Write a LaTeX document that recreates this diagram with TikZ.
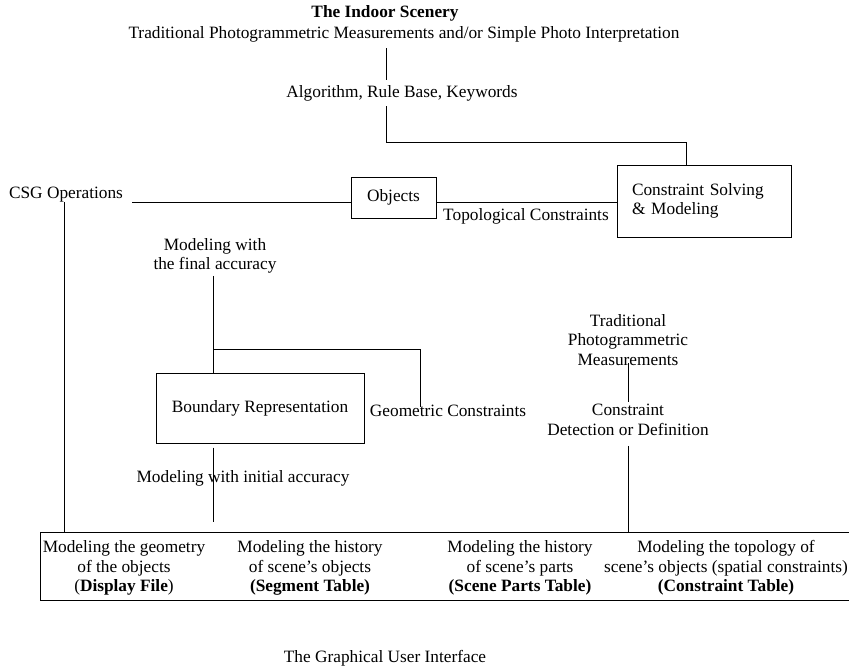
\documentclass[tikz,border=0pt]{standalone}
\usepackage{fontspec}
\setmainfont{Liberation Serif}
\begin{document}
\begin{tikzpicture}[x=1pt,y=-1pt,
  every node/.style={font=\fontsize{17.3}{19.5}\selectfont, inner sep=2pt, align=center},
  boldtxt/.style={font=\fontsize{17.3}{19.5}\selectfont\bfseries},
  box/.style={draw, line width=1pt},
  conn/.style={line width=1pt}]
\useasboundingbox (0,0) rectangle (849,672);

% text and box nodes
\node[boldtxt] (title) at (385,13) {The Indoor Scenery};
\node (trad) at (404,34) {Traditional Photogrammetric Measurements and/or Simple Photo Interpretation};
\node (algo) at (402,93) {Algorithm, Rule Base, Keywords};
\node[box, minimum width=174pt, minimum height=72pt, text width=144pt, inner xsep=15pt, align=left] (csm) at (704,201) {Constraint Solving\\\& Modeling};
\node[box, minimum width=85pt, minimum height=41pt] (obj) at (393.5,197.5) {Objects};
\node (csg) at (66,195) {CSG Operations};
\node (topo) at (526,216) {Topological Constraints};
\node (mfa) at (215,256) {Modeling with\\the final accuracy};
\node[box, minimum width=208pt, minimum height=70pt] (brep) at (260,408) {Boundary Representation};
\node (geo) at (448,411) {Geometric Constraints};
\node (tpm) at (628,340) {Traditional\\Photogrammetric\\Measurements};
\node (cdd) at (628,420) {Constraint\\Detection or Definition};
\node (mia) at (243,478) {Modeling with initial accuracy};
\node[box, minimum width=820pt, minimum height=68pt] (gui) at (450,566) {};
\node (g1) at (124,568) {Modeling the geometry\\of the objects\\(\textbf{Display File})};
\node (g2) at (310,568) {Modeling the history\\of scene’s objects\\\textbf{(Segment Table)}};
\node (g3) at (520,568) {Modeling the history\\of scene’s parts\\\textbf{(Scene Parts Table)}};
\node (g4) at (726,568) {Modeling the topology of\\scene’s objects (spatial constraints)\\\textbf{(Constraint Table)}};
\node (gtitle) at (385,658) {The Graphical User Interface};

% helper coordinates
\coordinate (xa) at (386,0);
\coordinate (ya) at (0,142);
\coordinate (xb) at (686,0);
\coordinate (yb) at (0,202);
\coordinate (xc) at (64,0);
\coordinate (xd) at (213,0);
\coordinate (yc) at (0,349);
\coordinate (xe) at (420,0);
\coordinate (xf) at (628,0);

% connectors
\draw[conn] ([yshift=-4pt]trad.south -| xa) -- ([yshift=3pt]algo.north -| xa);
\draw[conn] ([yshift=-3pt]algo.south -| xa) -- (xa |- ya) -- (xb |- ya) -- (xb |- csm.north);
\draw[conn] ([xshift=7pt]csg.east |- yb) -- (obj.west |- yb);
\draw[conn] (obj.east |- yb) -- (csm.west |- yb);
\draw[conn] (xc |- yb) -- (xc |- gui.north);
\draw[conn] (mfa.south -| xd) -- (xd |- brep.north);
\draw[conn] (xd |- yc) -- (xe |- yc) -- ([yshift=-4pt]xe |- geo.north);
\draw[conn] ([yshift=5pt]tpm.south -| xf) -- (cdd.north -| xf);
\draw[conn] ([yshift=-8pt]cdd.south -| xf) -- (xf |- gui.north);
\draw[conn] ([yshift=-4pt]brep.south -| xd) -- ([yshift=10pt]gui.north -| xd);
\end{tikzpicture}
\end{document}
